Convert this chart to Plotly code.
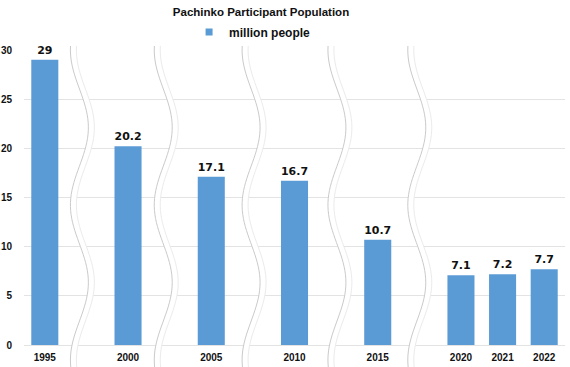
import math
import plotly.graph_objects as go

# ---- data ----
years = ["1995", "2000", "2005", "2010", "2015", "2020", "2021", "2022"]
values = [29, 20.2, 17.1, 16.7, 10.7, 7.1, 7.2, 7.7]
value_labels = ["29", "20.2", "17.1", "16.7", "10.7", "7.1", "7.2", "7.7"]
# axis slots: blank slots hold the wavy "break" marks
axis_slots = ["1995", "", "2000", "", "2005", "", "2010", "", "2015", "", "2020", "2021", "2022"]
series_name = "million people"
title_text = "Pachinko Participant Population"

x_pos = [axis_slots.index(y) for y in years]

W, H = 570, 367
L, R, T, B = 23.5, 4.5, 50, 22
pw, ph = W - L - R, H - T - B
BAR = "#5b9bd5"

fig = go.Figure()
fig.add_trace(go.Bar(
    x=x_pos, y=values, name=series_name,
    marker=dict(color=BAR, line=dict(width=0)),
    width=0.65,
    text=value_labels, textposition="outside", cliponaxis=False,
    textfont=dict(family="DejaVu Sans", size=11, color="#111111", weight="bold"),
    showlegend=False,
))
# legend entry with a small square swatch
fig.add_trace(go.Scatter(
    x=[None], y=[None], mode="markers", name=series_name,
    marker=dict(symbol="square", size=7, color=BAR), showlegend=True,
))

# wavy break marks (decoration)
def px2paper(xp, yp):
    return (xp - L) / pw, (H - B - yp) / ph

wave_centers = [79, 163, 251, 337, 417]
amp, period, y_start, y_end, band = 9, 155, 46, 367, 6
shapes = []
for c in wave_centers:
    ys = [y_start + i * (y_end - y_start) / 80 for i in range(81)]
    left = [px2paper(c - amp * math.cos(2 * math.pi * (y - 50) / period), y) for y in ys]
    right = [px2paper(c + band - amp * math.cos(2 * math.pi * (y - 50) / period), y) for y in ys]
    fill_path = "M " + " L ".join(f"{a:.5f},{b:.5f}" for a, b in left) + " L " + \
        " L ".join(f"{a:.5f},{b:.5f}" for a, b in reversed(right)) + " Z"
    shapes.append(dict(type="path", xref="paper", yref="paper", path=fill_path,
                       fillcolor="white", line=dict(width=0), layer="above"))
    lp = "M " + " L ".join(f"{a:.5f},{b:.5f}" for a, b in left)
    rp = "M " + " L ".join(f"{a:.5f},{b:.5f}" for a, b in right)
    shapes.append(dict(type="path", xref="paper", yref="paper", path=lp,
                       line=dict(color="#cacaca", width=1), layer="above"))
    shapes.append(dict(type="path", xref="paper", yref="paper", path=rp,
                       line=dict(color="#ebebeb", width=1), layer="above"))

fig.update_layout(
    width=W, height=H,
    margin=dict(l=L, r=R, t=T, b=B, autoexpand=False),
    paper_bgcolor="white", plot_bgcolor="white",
    title=dict(text=title_text, x=261 / W, xanchor="center", xref="container",
               y=1 - 12 / H, yanchor="middle", yref="container",
               font=dict(family="Liberation Sans", size=11.5, color="#111111", weight="bold")),
    legend=dict(orientation="h", x=(252 - L) / pw, xanchor="center",
                y=(H - B - 32) / ph, yanchor="middle",
                font=dict(family="Liberation Sans", size=12, color="#111111", weight="bold"),
                itemwidth=30, bgcolor="rgba(0,0,0,0)"),
    xaxis=dict(range=[-0.5, len(axis_slots) - 0.5], tickmode="array",
               tickvals=x_pos, ticktext=years, showgrid=False, zeroline=False,
               showline=False, ticks="", automargin=False, ticklabelstandoff=5,
               tickfont=dict(family="Liberation Sans", size=10, color="#111111", weight="bold")),
    yaxis=dict(range=[0, 30], tickvals=[0, 5, 10, 15, 20, 25, 30],
               showgrid=True, gridcolor="#e3e3e3", gridwidth=1, zeroline=True,
               zerolinecolor="#e3e3e3", zerolinewidth=1, showline=False, ticks="",
               automargin=False, ticklabelstandoff=11,
               tickfont=dict(family="Liberation Sans", size=10, color="#111111", weight="bold")),
    shapes=shapes,
)
fig.write_html("out.html", config={"displayModeBar": False},
               post_script="document.body.style.margin='0';document.body.style.overflow='hidden';")
